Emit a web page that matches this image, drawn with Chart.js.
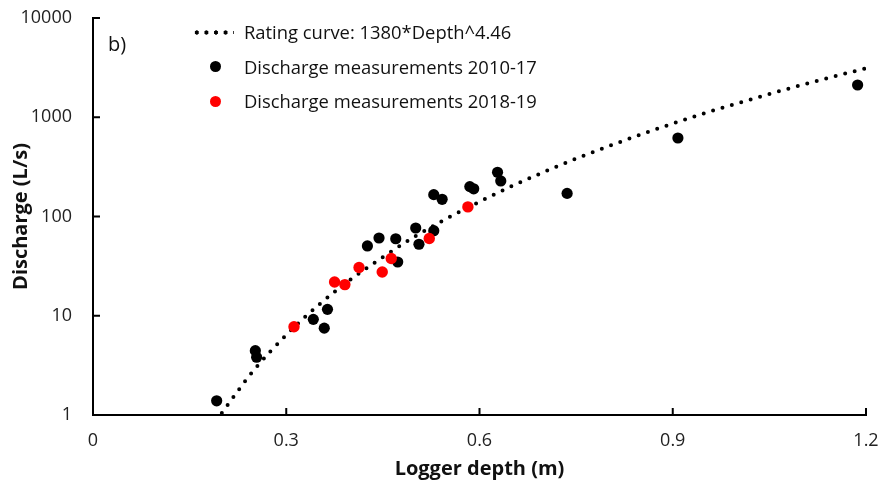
<!DOCTYPE html>
<html>
<head>
<meta charset="utf-8">
<script src="https://cdn.jsdelivr.net/npm/chart.js@4/dist/chart.umd.min.js"></script>
<style>
  html, body { margin: 0; padding: 0; background: #fff; }
  #wrap { position: relative; width: 878px; height: 488px; font-family: "Open Sans", sans-serif; color: #111; }
  #legend { position: absolute; left: 190px; top: 17px; font-size: 18.4px; }
  .row { position: relative; height: 34.5px; line-height: 30px; padding-left: 54px; white-space: nowrap; }
  .dots { position: absolute; left: 2px; top: 13px; width: 42px; height: 5px;
          background: radial-gradient(circle, #000 1.9px, transparent 2.4px) 0 0 / 9.6px 5px repeat-x; }
  .mk { position: absolute; left: 20px; top: 9.5px; width: 11px; height: 11px; border-radius: 50%; }
  #tag { position: absolute; left: 108px; top: 30px; font-size: 20px; }
</style>
</head>
<body>
<div id="wrap">
  <canvas id="ratingChart"></canvas>
  <div id="tag">b)</div>
  <div id="legend">
    <div class="row"><span class="dots"></span>Rating curve: 1380*Depth^4.46</div>
    <div class="row"><span class="mk" style="background:#000"></span>Discharge measurements 2010-17</div>
    <div class="row"><span class="mk" style="background:#ff0000"></span>Discharge measurements 2018-19</div>
  </div>
</div>
<script>
// ticks
const xTicks = [0, 0.3, 0.6, 0.9, 1.2];
const yTicks = [1, 10, 100, 1000, 10000];

// rating curve
const curveDepth = [0.2, 0.25, 0.3, 0.35, 0.4, 0.45, 0.5, 0.55, 0.6, 0.65, 0.7, 0.75, 0.8, 0.85, 0.9, 0.95, 1.0, 1.05, 1.1, 1.15, 1.2];
const curveQ = [1.05, 2.85, 6.4, 12.8, 23.2, 39, 63, 96, 141, 202, 281, 383, 510, 668, 863, 1100, 1380, 1715, 2110, 2575, 3110];

// measurements 2010-17
const oldDepth = [0.192, 0.252, 0.254, 0.342, 0.359, 0.364, 0.426, 0.444, 0.470, 0.473, 0.501, 0.506, 0.529, 0.529, 0.542, 0.585, 0.591, 0.628, 0.633, 0.736, 0.908, 1.187];
const oldQ = [1.39, 4.45, 3.82, 9.2, 7.5, 11.6, 50.5, 60.7, 59.7, 34.8, 76.6, 52.5, 71.9, 166, 149, 200, 190, 279, 228, 171, 618, 2113];

// measurements 2018-19
const newDepth = [0.312, 0.375, 0.391, 0.413, 0.449, 0.463, 0.522, 0.582];
const newQ = [7.76, 21.9, 20.6, 30.6, 27.6, 37.7, 60.0, 125];

const pts = (xs, ys) => xs.map((x, i) => ({ x: x, y: ys[i] }));

// small tick marks pointing into the plot
const innerTicks = {
  id: 'innerTicks',
  afterDraw(chart) {
    const ctx = chart.ctx;
    const xs = chart.scales.x, ys = chart.scales.y;
    const len = 7;
    ctx.save();
    ctx.strokeStyle = '#000';
    ctx.lineWidth = 2;
    ctx.beginPath();
    xTicks.forEach(v => {
      const px = xs.getPixelForValue(v);
      ctx.moveTo(px, xs.top);
      ctx.lineTo(px, xs.top - len);
    });
    yTicks.forEach(v => {
      const py = ys.getPixelForValue(v);
      ctx.moveTo(ys.right, py);
      ctx.lineTo(ys.right + len, py);
    });
    ctx.stroke();
    ctx.restore();
  }
};

new Chart(document.getElementById('ratingChart'), {
  type: 'scatter',
  data: {
    datasets: [
      {
        label: 'Discharge measurements 2018-19',
        data: pts(newDepth, newQ),
        backgroundColor: '#ff0000',
        borderWidth: 0,
        pointRadius: 5.7,
        order: 1
      },
      {
        label: 'Discharge measurements 2010-17',
        data: pts(oldDepth, oldQ),
        backgroundColor: '#000',
        borderWidth: 0,
        pointRadius: 5.6,
        order: 2
      },
      {
        label: 'Rating curve: 1380*Depth^4.46',
        data: pts(curveDepth, curveQ),
        showLine: true,
        borderColor: '#000',
        borderWidth: 4,
        borderDash: [0, 9.8],
        borderCapStyle: 'round',
        cubicInterpolationMode: 'monotone',
        pointRadius: 0,
        order: 3
      }
    ]
  },
  options: {
    responsive: true,
    maintainAspectRatio: false,
    animation: false,
    layout: { padding: { top: 18, right: 12, left: 0, bottom: 0 } },
    plugins: {
      legend: { display: false },
      tooltip: { enabled: false }
    },
    scales: {
      x: {
        type: 'linear',
        min: 0,
        max: 1.2,
        afterBuildTicks: s => { s.ticks = xTicks.map(v => ({ value: v })); },
        afterFit: s => { s.height = 73; s.paddingLeft = 0; s.paddingRight = 0; },
        grid: { drawOnChartArea: false, drawTicks: false },
        border: { color: '#000', width: 2 },
        ticks: {
          padding: 15,
          color: '#222',
          font: { family: 'Open Sans', size: 18 },
          callback: v => String(+v.toFixed(1))
        },
        title: {
          display: true,
          text: 'Logger depth (m)',
          color: '#111',
          font: { family: 'Open Sans', size: 20, weight: 'bold' },
          padding: { top: 0, bottom: 7 }
        }
      },
      y: {
        type: 'logarithmic',
        min: 1,
        max: 10000,
        afterBuildTicks: s => { s.ticks = yTicks.map(v => ({ value: v })); },
        afterFit: s => { s.width = 93; s.paddingTop = 0; s.paddingBottom = 0; },
        grid: { drawOnChartArea: false, drawTicks: false },
        border: { color: '#000', width: 2 },
        ticks: {
          padding: 21,
          color: '#222',
          font: { family: 'Open Sans', size: 18 },
          callback: v => String(v)
        },
        title: {
          display: true,
          text: 'Discharge (L/s)',
          color: '#111',
          font: { family: 'Open Sans', size: 20, weight: 'bold' },
          padding: { top: 9, bottom: 0 }
        }
      }
    }
  },
  plugins: [innerTicks]
});
</script>
</body>
</html>
